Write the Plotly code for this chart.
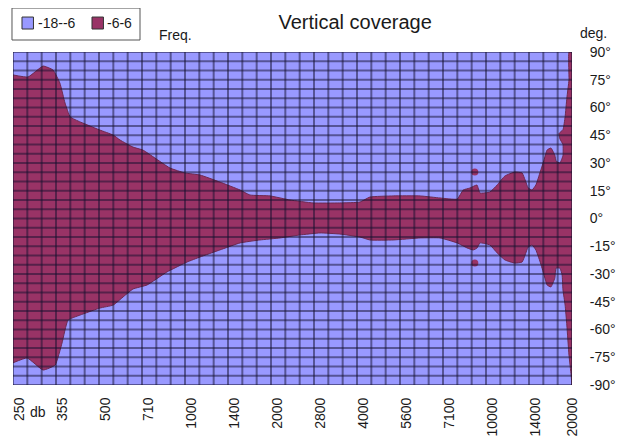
import plotly.graph_objects as go

# ---------------- data ----------------
freq_labels = ["250", "355", "500", "710", "1000", "1400", "2000", "2800",
               "4000", "5600", "7100", "10000", "14000", "20000"]
deg_ticks = [90, 75, 60, 45, 30, 15, 0, -15, -30, -45, -60, -75, -90]
levels = ["-18--6", "-6-6"]
level_colors = ["#9999ff", "#993366"]

# -6 dB contour: upper edge (position on frequency scale, degrees)
upper_pos = [0.00, 0.35, 0.70, 0.93, 1.09, 1.21, 1.33, 1.56, 1.79, 2.02, 2.33, 2.49,
             2.79, 3.02, 3.30, 3.65, 4.00, 4.35, 4.81, 5.28, 5.51, 5.98, 6.44, 6.98,
             7.60, 8.07, 8.30, 8.84, 9.47, 9.93, 10.33, 10.47, 10.63, 10.79, 10.86,
             11.09, 11.26, 11.44, 11.67, 11.84, 11.91, 11.98, 12.07, 12.16, 12.26,
             12.35, 12.42, 12.51, 12.60, 12.63, 12.72, 12.79, 12.79, 12.72, 12.70,
             12.79, 12.84, 12.88, 12.93, 12.93, 13.00]
upper_deg = [77.6, 76.5, 82.4, 80.3, 73.2, 62.4, 54.9, 52.2, 50.0, 47.8, 45.1, 42.4,
             38.6, 37.0, 32.7, 27.3, 24.6, 23.5, 19.7, 15.4, 12.7, 12.2, 10.0, 8.4,
             8.4, 8.9, 11.6, 12.2, 12.2, 11.1, 10.5, 15.4, 16.5, 18.1, 13.8,
             14.3, 18.1, 23.0, 25.1, 24.6, 20.8, 16.5, 15.4, 18.1, 25.1,
             31.6, 37.0, 38.1, 34.3, 31.0, 30.0, 34.0, 40.0, 43.0, 46.0,
             48.0, 55.0, 65.0, 75.0, 90.0, 90.0]

# -6 dB contour: lower edge
lower_pos = [0.00, 0.33, 0.70, 0.98, 1.14, 1.28, 1.56, 2.02, 2.33, 2.56, 2.79, 3.12,
             3.58, 4.05, 4.35, 4.81, 5.28, 5.74, 6.21, 6.67, 7.14, 7.60, 8.07, 8.30,
             8.84, 9.47, 9.93, 10.33, 10.56, 10.70, 10.79, 10.86, 11.09, 11.26, 11.44,
             11.67, 11.84, 11.91, 11.98, 12.07, 12.16, 12.26, 12.35, 12.42, 12.51,
             12.60, 12.63, 12.72, 12.77, 12.79, 12.84, 12.88, 12.93, 12.98, 13.00]
lower_deg = [-78.0, -75.4, -81.9, -79.2, -67.3, -54.9, -52.2, -48.4, -46.8, -42.4, -38.1, -35.9,
             -28.9, -23.5, -20.8, -17.0, -13.2, -11.6, -10.5, -8.9, -7.8, -8.4, -10.0, -11.6,
             -11.6, -10.5, -10.5, -13.2, -15.9, -17.0, -16.0, -13.2, -14.3, -18.6, -22.4,
             -24.1, -23.5, -19.7, -15.4, -14.3, -17.0, -23.5, -30.5, -35.9, -37.0,
             -32.2, -26.8, -26.8, -30.5, -38.6, -46.8, -57.6, -73.8, -84.6, -90.0]

# small isolated -6..6 spots
island_pos = [10.74, 10.74]
island_deg = [25.1, -24.1]

# measurement mesh (1/3 label step, 5 degree step)
mesh_pos = [k / 3 for k in range(0, 3 * (len(freq_labels) - 1) + 1)]
mesh_deg = list(range(-90, 91, 5))

# ---------------- figure ----------------
fig = go.Figure()

poly_x = upper_pos + lower_pos[::-1]
poly_y = upper_deg + lower_deg[::-1]
fig.add_trace(go.Scatter(
    x=poly_x, y=poly_y, mode="lines", fill="toself",
    fillcolor=level_colors[1],
    line=dict(color="#6e2a50", width=1, shape="spline", smoothing=0.4),
    showlegend=False, hoverinfo="skip"))

fig.add_trace(go.Scatter(
    x=island_pos, y=island_deg, mode="markers",
    marker=dict(color=level_colors[1], size=7, line=dict(width=0)),
    showlegend=False, hoverinfo="skip"))

# mesh lines
gx, gy = [], []
xmin, xmax = mesh_pos[0], mesh_pos[-1]
for p in mesh_pos:
    gx += [p, p, None]
    gy += [mesh_deg[0], mesh_deg[-1], None]
for d in mesh_deg:
    gx += [xmin, xmax, None]
    gy += [d, d, None]
fig.add_trace(go.Scatter(
    x=gx, y=gy, mode="lines",
    line=dict(color="rgba(20,15,45,0.5)", width=2),
    showlegend=False, hoverinfo="skip"))

# hand-drawn legend (box, swatches, labels) in paper coordinates
legend_box = dict(x0=-0.0018, x1=0.2272, y0=1.036, y1=1.132)
swatch_x0 = [0.0161, 0.1413]
swatch_w = 0.0205
text_x = [0.0411, 0.1646]
shapes = [dict(type="rect", xref="paper", yref="paper", **legend_box,
               line=dict(color="#555555", width=1), fillcolor="white", layer="above")]
annotations = []
for name, col, sx, tx in zip(levels, level_colors, swatch_x0, text_x):
    shapes.append(dict(type="rect", xref="paper", yref="paper",
                       x0=sx, x1=sx + swatch_w, y0=1.069, y1=1.105,
                       line=dict(color="#333333", width=1), fillcolor=col,
                       layer="above"))
    annotations.append(dict(text=name, x=tx, y=1.087, xref="paper", yref="paper",
                            xanchor="left", yanchor="middle", showarrow=False,
                            font=dict(size=14)))

annotations += [
    dict(text="Freq.", x=0.29, y=1.051, xref="paper", yref="paper",
         xanchor="center", yanchor="middle", showarrow=False, font=dict(size=14)),
    dict(text="deg.", x=1.039, y=1.057, xref="paper", yref="paper",
         xanchor="center", yanchor="middle", showarrow=False, font=dict(size=14)),
    dict(text="db", x=0.045, y=-0.081, xref="paper", yref="paper",
         xanchor="center", yanchor="middle", showarrow=False, font=dict(size=14)),
]

# label positions: slightly right of each mesh column, kept inside the axis range
label_pos = [min(i + 0.14, xmax) for i in range(len(freq_labels))]

# page body adds an 8px offset, so the figure is sized to fit the 630x443 window
fig.update_layout(
    width=622, height=435,
    margin=dict(l=5, r=58, t=44, b=58, autoexpand=False),
    paper_bgcolor="white",
    plot_bgcolor=level_colors[0],
    font=dict(family="Liberation Sans, Arial, sans-serif", size=14, color="#1a1a1a"),
    title=dict(text="Vertical coverage", x=0.612, xref="paper", xanchor="center",
               y=0.968, yref="container", yanchor="middle",
               font=dict(size=20, color="#1a1a1a")),
    showlegend=False,
    xaxis=dict(range=[xmin, xmax], tickmode="array",
               tickvals=label_pos, ticktext=freq_labels,
               tickangle=-90, showgrid=False, zeroline=False, automargin=False,
               ticks="outside", ticklen=6, tickcolor="rgba(0,0,0,0)",
               showline=False),
    yaxis=dict(range=[-90, 90], side="right", tickmode="array",
               tickvals=deg_ticks, ticktext=[f"{d}°" for d in deg_ticks],
               showgrid=False, zeroline=False, automargin=False,
               ticks="outside", ticklen=14, tickcolor="rgba(0,0,0,0)",
               showline=False),
    shapes=shapes,
    annotations=annotations,
)

fig.write_html("out.html")
